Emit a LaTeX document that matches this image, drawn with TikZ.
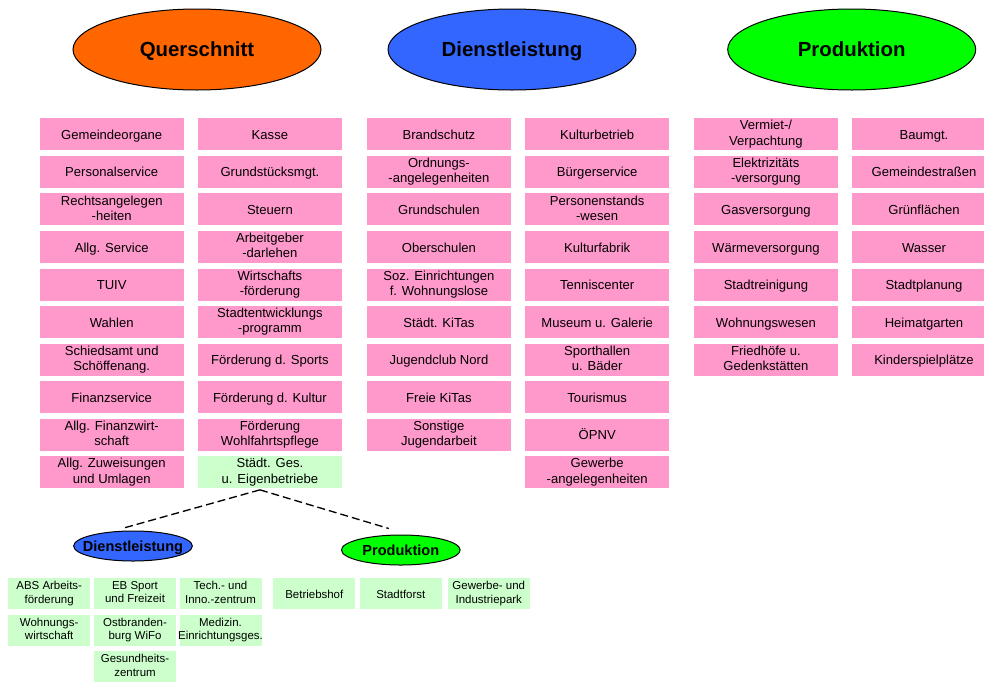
\documentclass[tikz,border=0pt]{standalone}
\usepackage{fontspec}
\setmainfont{Liberation Sans}
\usetikzlibrary{shapes.geometric}

\definecolor{boxpink}{HTML}{FF99CC}
\definecolor{boxgreen}{HTML}{CCFFCC}
\definecolor{headorange}{HTML}{FF6600}
\definecolor{headblue}{HTML}{3366FF}
\definecolor{headgreen}{HTML}{00FF00}

% invisible struts giving every label the same top and bottom
\newcommand\topstrut[1]{\rule{0pt}{#1}}
\newcommand\botstrut[1]{\rule[-#1]{0pt}{#1}}

\begin{document}
\begin{tikzpicture}[x=0.75pt,y=-0.75pt,
  unitbox/.style={rectangle, inner sep=0pt, align=center,
    minimum width=108pt, minimum height=24pt,
    font=\fontsize{9.8}{11.5}\selectfont,
    execute at begin node={\topstrut{9.8pt}},
    execute at end node={\botstrut{2.2pt}}},
  pinkbox/.style={unitbox, fill=boxpink},
  greenbox/.style={unitbox, fill=boxgreen},
  subbox/.style={rectangle, inner sep=0pt, align=center, fill=boxgreen,
    minimum width=61.5pt, minimum height=23.25pt,
    font=\fontsize{8.6}{10}\selectfont,
    execute at begin node={\topstrut{9pt}},
    execute at end node={\botstrut{1.8pt}}},
  headoval/.style={ellipse, draw=black, line width=0.75pt, inner sep=0pt,
    minimum width=186pt, minimum height=60.75pt,
    font=\fontsize{15.3}{18}\selectfont\bfseries,
    execute at begin node={\topstrut{14.2pt}},
    execute at end node={\botstrut{3.2pt}}},
  suboval/.style={ellipse, draw=black, line width=0.75pt,
    inner xsep=-15pt, inner ysep=0pt,
    minimum width=89pt, minimum height=22.5pt,
    font=\fontsize{10.9}{13}\selectfont\bfseries,
    execute at begin node={\topstrut{10.1pt}},
    execute at end node={\botstrut{2.3pt}}},
  splitline/.style={draw=black, line width=1pt, dash pattern=on 6pt off 3pt}
]
\clip (0,0) rectangle (984,682);
\fill[white] (0,0) rectangle (984,682);

% group headings
\node[headoval, fill=headorange] (quer)   at (197,49.5)   {Querschnitt};
\node[headoval, fill=headblue]   (dienst) at (512,49.5)   {Dienstleistung};
\node[headoval, fill=headgreen]  (prod)   at (851.7,49.5) {Produktion};

% Querschnitt, first column
\foreach \t [count=\i from 0] in {Gemeindeorgane, Personalservice,
    {Rechtsangelegen\\-heiten}, Allg. Service, TUIV, Wahlen,
    {Schiedsamt und\\Schöffenang.}, Finanzservice,
    {Allg. Finanzwirt-\\schaft}, {Allg. Zuweisungen\\und Umlagen}}
  \node[pinkbox] (qa\i) at (111.7,{134.3+37.55*\i}) {\t};

% Querschnitt, second column
\foreach \t [count=\i from 0] in {Kasse, Grundstücksmgt., Steuern,
    {Arbeitgeber\\-darlehen}, {Wirtschafts\\-förderung},
    {Stadtentwicklungs\\-programm}, Förderung d. Sports,
    Förderung d. Kultur, {Förderung\\Wohlfahrtspflege}}
  \node[pinkbox] (qb\i) at (269.9,{134.3+37.55*\i}) {\t};
\node[greenbox] (stadt) at (269.9,{134.3+37.55*9}) {Städt. Ges.\\u. Eigenbetriebe};

% Dienstleistung, first column
\foreach \t [count=\i from 0] in {Brandschutz, {Ordnungs-\\-angelegenheiten},
    Grundschulen, Oberschulen, {Soz. Einrichtungen\\f. Wohnungslose},
    Städt. KiTas, Jugendclub Nord, Freie KiTas, {Sonstige\\Jugendarbeit}}
  \node[pinkbox] (da\i) at (438.9,{134.3+37.55*\i}) {\t};

% Dienstleistung, second column
\foreach \t [count=\i from 0] in {Kulturbetrieb, Bürgerservice,
    {Personenstands\\-wesen}, Kulturfabrik, Tenniscenter, Museum u. Galerie,
    {Sporthallen\\u. Bäder}, Tourismus, ÖPNV, {Gewerbe\\-angelegenheiten}}
  \node[pinkbox] (db\i) at (597.2,{134.3+37.55*\i}) {\t};

% Produktion, first column
\foreach \t [count=\i from 0] in {{Vermiet-/\\Verpachtung},
    {Elektrizitäts\\-versorgung}, Gasversorgung, Wärmeversorgung,
    Stadtreinigung, Wohnungswesen, {Friedhöfe u.\\Gedenkstätten}}
  \node[pinkbox] (pa\i) at (765.9,{134.3+37.55*\i}) {\t};

% Produktion, second column
\foreach \t [count=\i from 0] in {Baumgt., Gemeindestraßen, Grünflächen,
    Wasser, Stadtplanung, Heimatgarten, Kinderspielplätze}
  \node[pinkbox] (pb\i) at (924,{134.3+37.55*\i}) {\t};

% municipal companies and their split
\node[suboval, fill=headblue]  (dlsmall) at (133,546)   {Dienstleistung};
\node[suboval, fill=headgreen] (prsmall) at (400.8,550) {Produktion};

\coordinate (fork) at ([xshift=-7.5pt,yshift=-1pt]stadt.south);
\draw[splitline] (fork) -- ([xshift=-8.25pt,yshift=1.5pt]dlsmall.north);
\draw[splitline] (fork) -- ([xshift=-9pt,yshift=4.5pt]prsmall.north);

\node[subbox] (abs)   at (49.2,593.5)  {ABS Arbeits-\\förderung};
\node[subbox] (ebs)   at (135,593.5)   {EB Sport\\und Freizeit};
\node[subbox] (tiz)   at (220.5,593.5) {Tech.- und\\Inno.-zentrum};
\node[subbox] (woh)   at (49.2,630)    {Wohnungs-\\wirtschaft};
\node[subbox] (wifo)  at (135,630)     {Ostbranden-\\burg WiFo};
\node[subbox] (med)   at (220.5,630)   {Medizin.\\\makebox[0pt]{Einrichtungsges.}};
\node[subbox] (ges)   at (135,666.7)   {Gesundheits-\\zentrum};

\node[subbox] (bhof)  at (314.3,593.5) {Betriebshof};
\node[subbox] (forst) at (400.8,593.5) {Stadtforst};
\node[subbox] (gip)   at (488.8,593.5) {Gewerbe- und\\Industriepark};
\end{tikzpicture}
\end{document}
